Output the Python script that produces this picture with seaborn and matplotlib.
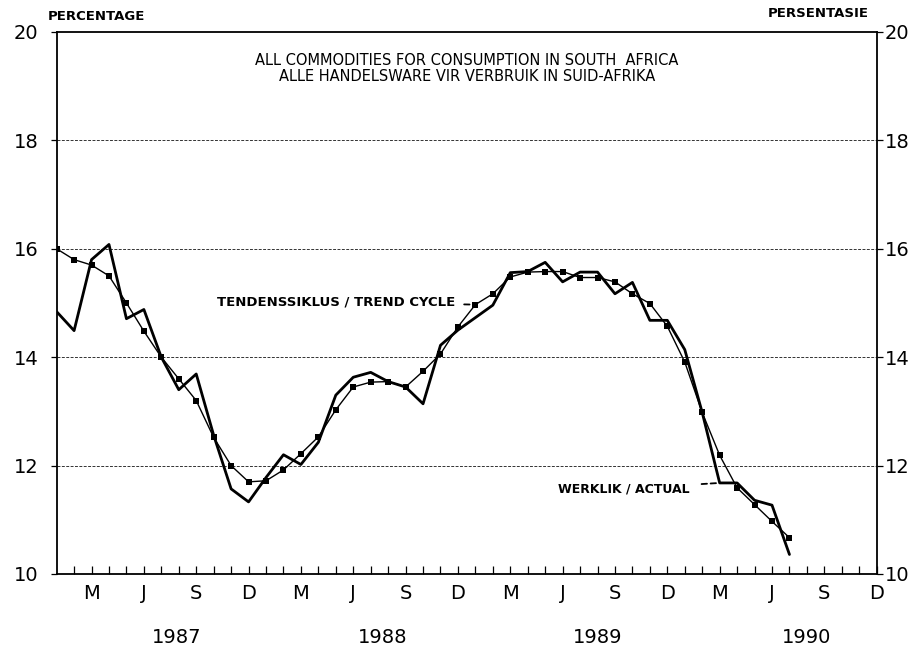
import numpy as np
import pandas as pd
import seaborn as sns
import matplotlib.pyplot as plt
import matplotlib.transforms as mtransforms

# monthly data, Jan 1987 (0) .. Jul 1990 (42)
month_index = np.arange(43)
trend = [16.0, 15.8, 15.7, 15.5, 15.0, 14.48, 14.0, 13.6, 13.2, 12.52,
         12.0, 11.7, 11.72, 11.92, 12.22, 12.53, 13.03, 13.45, 13.54, 13.55,
         13.45, 13.74, 14.06, 14.56, 14.97, 15.17, 15.48, 15.57, 15.58, 15.58,
         15.47, 15.47, 15.39, 15.17, 14.99, 14.57, 13.91, 12.98, 12.19, 11.59,
         11.28, 10.97, 10.67]
actual = [14.84, 14.49, 15.8, 16.08, 14.71, 14.88, 14.0, 13.4, 13.69, 12.56,
          11.57, 11.33, 11.78, 12.2, 12.02, 12.43, 13.3, 13.63, 13.72, 13.55,
          13.45, 13.14, 14.22, 14.5, 14.73, 14.96, 15.56, 15.58, 15.75, 15.39,
          15.57, 15.57, 15.17, 15.38, 14.68, 14.68, 14.14, 12.98, 11.68, 11.68,
          11.36, 11.27, 10.36]

quarter_labels = ['M', 'J', 'S', 'D'] * 4
years = ['1987', '1988', '1989', '1990']
year_pos = [6.9, 18.7, 31.0, 43.0]

df = pd.DataFrame({'month': month_index, 'trend': trend, 'actual': actual})

sns.set_style('white')
plt.rcParams['font.family'] = ['DejaVu Sans']
plt.rcParams['text.color'] = 'black'
plt.rcParams['xtick.color'] = 'black'
plt.rcParams['ytick.color'] = 'black'
plt.rcParams['xtick.labelcolor'] = 'black'
plt.rcParams['ytick.labelcolor'] = 'black'

fig = plt.figure(figsize=(9.18, 6.53), dpi=100)
ax = fig.add_axes([0.0617, 0.121, 0.8933, 0.830])

sns.lineplot(data=df, x='month', y='actual', color='black', lw=2.0, ax=ax)
sns.lineplot(data=df, x='month', y='trend', color='black', lw=1.0,
             marker='s', markersize=4.2, markeredgewidth=0, ax=ax)

ax.set_xlim(0, 47)
ax.set_ylim(10, 20)
ax.set_xlabel('')
ax.set_ylabel('')

# horizontal grid
for y in (12, 14, 16, 18):
    ax.axhline(y, color='#333333', lw=0.7, ls=(0, (3, 1.5)), zorder=0)

for s in ax.spines.values():
    s.set_visible(True)
    s.set_linewidth(1.3)
    s.set_color('black')

# x axis: monthly ticks, quarter letters
ax.set_xticks(range(2, 48, 3))
ax.set_xticklabels(quarter_labels)
ax.set_xticks(range(1, 47), minor=True)
ax.tick_params(axis='x', which='both', direction='in', length=6, width=0.9,
               color='black', pad=7, labelsize=14, bottom=True)

# y axis on both sides
ax.set_yticks(range(10, 21, 2))
ax.tick_params(axis='y', direction='out', length=4, width=0.9, pad=9,
               labelsize=14, left=True)
ax2 = ax.twinx()
ax2.set_ylim(10, 20)
ax2.set_yticks(range(10, 21, 2))
ax2.tick_params(axis='y', direction='out', length=4, width=0.9, pad=2,
                labelsize=14, right=True)
for s in ax2.spines.values():
    s.set_visible(False)

trans = mtransforms.blended_transform_factory(ax.transData, ax.transAxes)
for p, yr in zip(year_pos, years):
    ax.text(p, -0.118, yr, transform=trans, ha='center', va='center', fontsize=14)

ax.text(-0.011, 1.028, 'PERCENTAGE', transform=ax.transAxes, ha='left',
        va='center', fontsize=9.5, fontweight='bold')
ax.text(0.99, 1.035, 'PERSENTASIE', transform=ax.transAxes, ha='right',
        va='center', fontsize=9.5, fontweight='bold')
ax.text(0.5, 0.948, 'ALL COMMODITIES FOR CONSUMPTION IN SOUTH  AFRICA',
        transform=ax.transAxes, ha='center', va='center', fontsize=10.5)
ax.text(0.5, 0.917, 'ALLE HANDELSWARE VIR VERBRUIK IN SUID-AFRIKA',
        transform=ax.transAxes, ha='center', va='center', fontsize=10.5)

ax.annotate('TENDENSSIKLUS / TREND CYCLE', xy=(24, trend[24]), xytext=(22.85, 15.02),
            ha='right', va='center', fontsize=9.5, fontweight='bold',
            arrowprops=dict(arrowstyle='-', ls=(0, (3, 2)), lw=1.3, color='black',
                            shrinkA=4, shrinkB=1))
ax.annotate('WERKLIK / ACTUAL', xy=(38, actual[38]), xytext=(36.3, 11.57),
            ha='right', va='center', fontsize=9, fontweight='bold',
            arrowprops=dict(arrowstyle='-', ls=(0, (3, 2)), lw=1.3, color='black',
                            shrinkA=6, shrinkB=1))

fig.savefig('out.png', dpi=100)
